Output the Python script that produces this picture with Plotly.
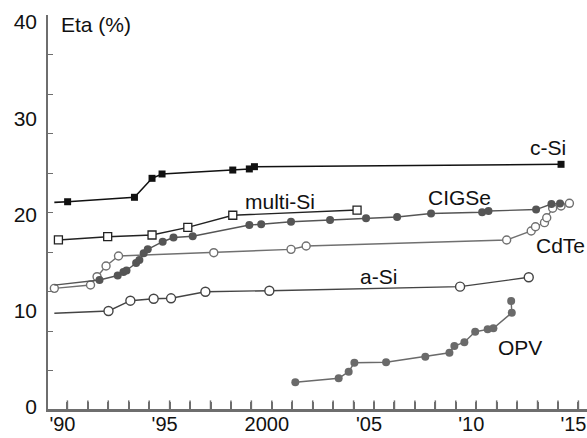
import plotly.graph_objects as go

# ---- data (year, efficiency %) ----
csi_year = [1989.36, 1990.01, 1993.28, 1994.14, 1994.63, 1998.09, 1998.90, 1999.15, 2014.15]
csi_eta = [21.03, 21.09, 21.54, 23.46, 23.90, 24.30, 24.41, 24.64, 24.88]
csi_show = [0, 1, 1, 1, 1, 1, 1, 1, 1]

msi_year = [1989.56, 1991.97, 1994.14, 1995.89, 1998.09, 2004.17]
msi_eta = [17.22, 17.55, 17.72, 18.50, 19.72, 20.25]

cigs_year = [1989.36, 1991.57, 1992.46, 1992.74, 1992.89, 1993.36, 1993.52, 1993.73, 1993.93,
             1994.66, 1995.19, 1996.13, 1998.90, 1999.48, 2000.94, 2002.85, 2004.61, 2006.13,
             2007.79, 2010.29, 2010.60, 2012.93, 2013.68, 2014.10]
cigs_eta = [12.65, 13.16, 13.62, 13.97, 14.13, 14.89, 15.19, 15.87, 16.27,
            17.04, 17.47, 17.59, 18.73, 18.81, 19.07, 19.24, 19.41, 19.54,
            19.90, 20.02, 20.15, 20.30, 20.86, 20.90]
cigs_show = [0] + [1] * 23

cdte_year = [1989.36, 1991.13, 1991.45, 1991.89, 1992.50, 1997.16, 2000.94, 2001.68, 2011.49,
             2012.69, 2012.90, 2013.34, 2013.45, 2013.74, 2014.15, 2014.56]
cdte_eta = [12.32, 12.66, 13.50, 14.58, 15.59, 15.93, 16.27, 16.61, 17.22,
            18.13, 18.56, 18.97, 19.47, 20.43, 20.66, 20.93]

asi_year = [1989.36, 1992.01, 1993.08, 1994.22, 1995.07, 1996.75, 1999.88, 2009.21, 2012.57]
asi_eta = [9.79, 10.03, 11.07, 11.27, 11.31, 11.98, 12.08, 12.49, 13.44]
asi_show = [0, 1, 1, 1, 1, 1, 1, 1, 1]

opv_year = [2001.15, 2003.27, 2003.76, 2004.04, 2005.59, 2007.51, 2008.69, 2008.93, 2009.42,
            2009.95, 2010.56, 2010.84, 2011.74, 2011.71]
opv_eta = [2.81, 3.21, 3.88, 4.79, 4.83, 5.40, 5.80, 6.48, 6.86,
           7.93, 8.17, 8.27, 9.85, 11.04]

labels = ["c-Si", "multi-Si", "CIGSe", "CdTe", "a-Si", "OPV"]
label_year = [2013.51, 2000.42, 2009.20, 2014.14, 2005.24, 2012.14]
label_eta = [26.63, 21.16, 21.47, 16.61, 13.57, 6.38]

x_label_vals = [1990, 1995, 2000, 2005, 2010, 2015]
x_label_text = ["'90", "'95", "2000", "'05", "'10", "'15"]
x_ticks = list(range(1989, 2016))
y_labels = [0, 10, 20, 30, 40]
y_ticks = list(range(0, 41, 4))

X_RANGE = [1989.05, 2015.42]
Y_RANGE = [0, 40]
FONT = "Liberation Sans, Arial, sans-serif"
AXC = "#6e6e6e"

# plot-area geometry used to size the tick marks
W, H = 587, 438
M_L, M_R, M_T, M_B = 48, 0, 15, 28
TICK_PX = 8
units_per_px = (Y_RANGE[1] - Y_RANGE[0]) / (H - M_T - M_B)
tick_center = Y_RANGE[0] + TICK_PX / 2 * units_per_px

fig = go.Figure()

# x-axis baseline and year ticks drawn through the axes
fig.add_trace(go.Scatter(
    x=X_RANGE, y=[Y_RANGE[0], Y_RANGE[0]], mode="lines", hoverinfo="skip",
    line=dict(color=AXC, width=1.8), cliponaxis=False,
))
fig.add_trace(go.Scatter(
    x=x_ticks, y=[tick_center] * len(x_ticks), mode="markers", hoverinfo="skip",
    cliponaxis=False,
    marker=dict(symbol="line-ns", size=TICK_PX, color=AXC, line=dict(color=AXC, width=1.5)),
))

fig.add_trace(go.Scatter(
    x=csi_year, y=csi_eta, mode="lines+markers",
    line=dict(color="#111111", width=1.6),
    marker=dict(symbol="square", size=7, color="#111111", opacity=csi_show),
))
fig.add_trace(go.Scatter(
    x=msi_year, y=msi_eta, mode="lines+markers",
    line=dict(color="#222222", width=1.4),
    marker=dict(symbol="square", size=8, color="white", line=dict(color="#222222", width=1.3)),
))
fig.add_trace(go.Scatter(
    x=cdte_year, y=cdte_eta, mode="lines+markers",
    line=dict(color="#707070", width=1.4),
    marker=dict(symbol="circle", size=8, color="white", line=dict(color="#707070", width=1.4)),
))
fig.add_trace(go.Scatter(
    x=cigs_year, y=cigs_eta, mode="lines+markers",
    line=dict(color="#555555", width=1.4),
    marker=dict(symbol="circle", size=8, color="#555555", opacity=cigs_show),
))
fig.add_trace(go.Scatter(
    x=asi_year, y=asi_eta, mode="lines+markers",
    line=dict(color="#444444", width=1.4),
    marker=dict(symbol="circle", size=9, color="white", opacity=asi_show,
                line=dict(color="#444444", width=1.4)),
))
fig.add_trace(go.Scatter(
    x=opv_year, y=opv_eta, mode="lines+markers",
    line=dict(color="#6a6a6a", width=1.4),
    marker=dict(symbol="circle", size=8, color="#6a6a6a"),
))
# empty traces hosting the overlay axes that carry the tick labels
fig.add_trace(go.Scatter(x=[], y=[], yaxis="y2", showlegend=False))
fig.add_trace(go.Scatter(x=[], y=[], xaxis="x2", showlegend=False))

for name, xv, yv in zip(labels, label_year, label_eta):
    fig.add_annotation(x=xv, y=yv, text=name, showarrow=False,
                       font=dict(family=FONT, size=21, color="#111111"))

fig.add_annotation(x=1989.6, y=39.0, text="Eta (%)", showarrow=False, xanchor="left",
                   font=dict(family=FONT, size=21, color="#111111"))

fig.update_layout(
    template="none",
    width=W, height=H,
    margin=dict(l=M_L, r=M_R, t=M_T, b=M_B, pad=0),
    paper_bgcolor="white", plot_bgcolor="white",
    showlegend=False,
    font=dict(family=FONT, color="#111111"),
    xaxis=dict(
        range=X_RANGE, showgrid=False, zeroline=False, automargin=False,
        showline=True, linecolor=AXC, linewidth=1.6,
        tickmode="array", tickvals=x_ticks, showticklabels=False,
        ticks="inside", ticklen=TICK_PX, tickwidth=1.5, tickcolor=AXC,
    ),
    xaxis2=dict(
        range=X_RANGE, overlaying="x", side="bottom", anchor="y", automargin=False,
        showgrid=False, zeroline=False, showline=False,
        tickmode="array", tickvals=x_label_vals, ticktext=x_label_text,
        ticks="", ticklabeloverflow="allow", ticklabelshift=-5,
        tickfont=dict(family=FONT, size=20, color="#111111"),
    ),
    yaxis=dict(
        range=Y_RANGE, showgrid=False, automargin=False, zeroline=False,
        showline=True, linecolor=AXC, linewidth=1.6,
        tickmode="array", tickvals=y_ticks, showticklabels=False,
        ticks="inside", ticklen=5, tickwidth=1.4, tickcolor=AXC,
    ),
    yaxis2=dict(
        range=[-0.31, 40.73], overlaying="y", side="left", anchor="x", automargin=False,
        showgrid=False, zeroline=False, showline=False,
        tickmode="array", tickvals=y_labels, ticktext=[str(v) for v in y_labels],
        ticks="", ticklabelstandoff=10, ticklabeloverflow="allow",
        tickfont=dict(family=FONT, size=21, color="#111111"),
    ),
)

fig.write_html("out.html")
